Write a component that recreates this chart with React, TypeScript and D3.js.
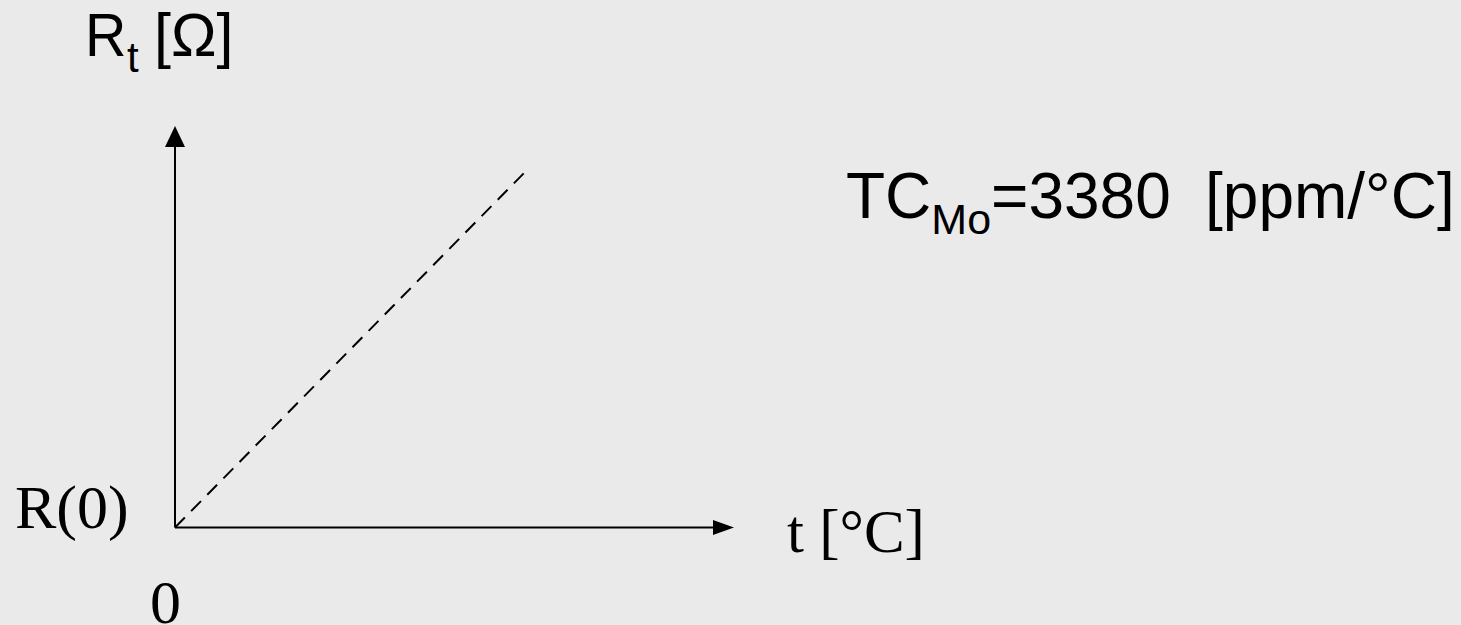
import React from "react";
import * as d3 from "d3";

// Data (relative units): R_t grows linearly with t from R(0)
const tValues = [0, 1];
const rValues = [0, 1];
const xAxisMax = 1.588; // extent of t axis arrow
const yAxisMax = 1.123; // extent of R axis arrow

const xLabel = "t [°C]";
const originLabel = "0";
const r0Label = "R(0)";
const tcBase = "TC";
const tcSub = "Mo";
const tcValue = "=3380";
const tcUnit = "[ppm/°C]";

export default function App() {
  const W = 1461;
  const H = 625;
  const x = d3.scaleLinear().domain([0, 1]).range([175, 527]);
  const y = d3.scaleLinear().domain([0, 1]).range([527.5, 170]);

  const line = d3
    .line<number>()
    .x((_, i) => x(tValues[i]))
    .y((d) => y(d));

  const x0 = x(0);
  const y0 = y(0);
  const xEnd = x(xAxisMax);
  const yEnd = y(yAxisMax);
  const ah = 21; // arrow head length
  const aw = 10; // half width

  const serif = "'Liberation Serif', 'Times New Roman', serif";
  const sans = "'Liberation Sans', Arial, sans-serif";

  return (
    <svg
      width={W}
      height={H}
      style={{ position: "absolute", left: 0, top: 0 }}
    >
      <rect x={0} y={0} width={W} height={H} fill="#eaeaea" />
      {/* y axis */}
      <line x1={x0} y1={y0} x2={x0} y2={yEnd + ah} stroke="#000" strokeWidth={2} />
      <polygon
        points={`${x0},${yEnd} ${x0 - aw},${yEnd + ah} ${x0 + aw},${yEnd + ah}`}
        fill="#000"
      />
      {/* x axis */}
      <line x1={x0} y1={y0} x2={xEnd - ah} y2={y0} stroke="#000" strokeWidth={2} />
      <polygon
        points={`${xEnd},${y0} ${xEnd - ah},${y0 - 7.5} ${xEnd - ah},${y0 + 7.5}`}
        fill="#000"
      />
      {/* dashed line */}
      <path
        d={line(rValues) || ""}
        fill="none"
        stroke="#000"
        strokeWidth={2}
        strokeDasharray="14 9"
      />
      {/* Y label */}
      <g transform="translate(85,56) scale(0.94,1)">
        <text x={0} y={0} fontFamily={sans} fontSize={61} fill="#000">
          R
        </text>
      </g>
      <text x={127} y={72} fontFamily={sans} fontSize={42} fill="#000">
        t
      </text>
      <text x={154} y={56} fontFamily={sans} fontSize={61} fill="#000">
        [Ω]
      </text>
      {/* x label */}
      <text x={787} y={552} fontFamily={serif} fontSize={61} fill="#000">
        {xLabel}
      </text>
      <text x={15} y={528} fontFamily={serif} fontSize={62} fill="#000">
        {r0Label}
      </text>
      <text x={150} y={623} fontFamily={serif} fontSize={62} fill="#000">
        {originLabel}
      </text>
      {/* TC annotation */}
      <text x={846} y={218} fontFamily={sans} fontSize={64} fill="#000">
        <tspan>{tcBase}</tspan>
        <tspan fontSize={43} dy={16}>
          {tcSub}
        </tspan>
        <tspan dy={-16}>{tcValue}</tspan>
        <tspan x={1205}>{tcUnit}</tspan>
      </text>
    </svg>
  );
}
